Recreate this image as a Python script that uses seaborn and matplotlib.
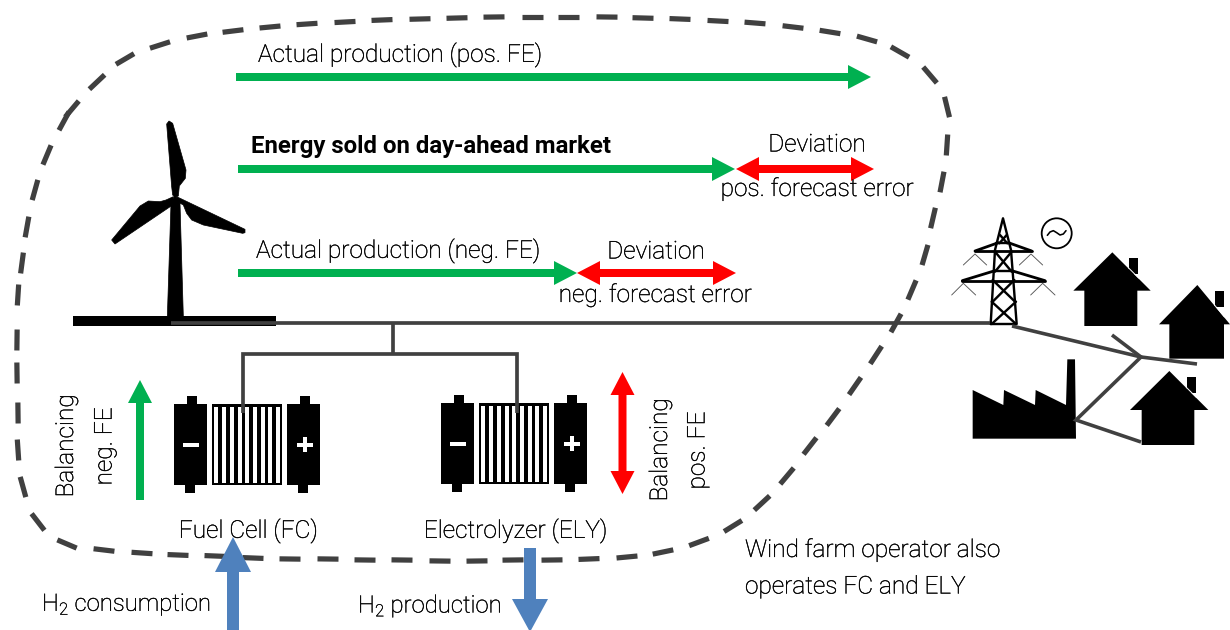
import matplotlib
matplotlib.use("Agg")
import matplotlib.pyplot as plt
import matplotlib.patheffects as pe
import numpy as np
import pandas as pd
import seaborn as sns
from matplotlib.patches import Circle, Polygon, Rectangle

sns.set_theme(style="white")
plt.rcParams["font.family"] = ["Roboto", "DejaVu Sans"]
plt.rcParams["mathtext.fontset"] = "custom"
plt.rcParams["mathtext.rm"] = "Roboto:light"
plt.rcParams["mathtext.default"] = "rm"

GREEN, RED, BLUE, DARK = "#00B050", "#FF0000", "#4F81BD", "#404040"

# ---- labels -----------------------------------------------------------
LABELS = [
    ("Actual production (pos. FE)", 258, 55, "left", 0, "light"),
    ("Energy sold on day-ahead market", 251, 147, "left", 0, "bold"),
    ("Deviation", 817, 145, "center", 0, "light"),
    ("pos. forecast error", 817, 189, "center", 0, "light"),
    ("Actual production (neg. FE)", 256, 251, "left", 0, "light"),
    ("Deviation", 656, 252, "center", 0, "light"),
    ("neg. forecast error", 655, 295, "center", 0, "light"),
    ("Balancing", 66.5, 446, "center", 90, "light"),
    ("neg. FE", 105, 446.5, "center", 90, "light"),
    ("Balancing", 660.5, 450, "center", 90, "light"),
    ("pos. FE", 698, 450.5, "center", 90, "light"),
    ("Fuel Cell (FC)", 248.5, 531, "center", 0, "light"),
    ("Electrolyzer (ELY)", 515.5, 531, "center", 0, "light"),
    ("H$_2$ consumption", 42, 605, "left", 0, "light"),
    ("H$_2$ production", 358, 606, "left", 0, "light"),
    ("Wind farm operator also", 745, 550, "left", 0, "light"),
    ("operates FC and ELY", 745, 587, "left", 0, "light"),
]

# ---- arrows: start, end, colour, shaft width, head width, head length, two-headed
ARROWS = [
    ((236, 77), (871, 77), GREEN, 8, 24, 23, False),
    ((238, 169), (735, 169), GREEN, 8, 24, 23, False),
    ((736, 169), (874, 169), RED, 8, 24, 23, True),
    ((238, 273), (577, 273), GREEN, 8, 24, 23, False),
    ((577, 273), (736, 273), RED, 8, 24, 23, True),
    ((140, 500), (140, 380), GREEN, 8, 24, 23, False),
    ((622.5, 494), (622.5, 372), RED, 8, 24, 23, True),
    ((233, 632), (233, 537), BLUE, 12, 36, 35, False),
    ((530, 548), (530, 632), BLUE, 12, 36, 33, False),
]

# ---- dashed boundary: dash centres, clockwise from the bottom left ------
DASH_CENTRES = [
    (67, 544), (38, 522), (23, 487), (18, 450), (18, 413), (17, 373), (17, 340),
    (18, 295), (22, 263), (27, 227), (35, 190), (47, 155), (64, 121), (72, 109), (97, 82),
    (125, 59), (160, 45), (197, 36), (233, 31), (270, 27), (307, 24), (345, 22), (382, 20),
    (420, 19), (457, 18), (494, 17), (532, 17), (568, 17), (607, 17), (643, 18), (680, 19),
    (718, 21), (755, 23), (793, 27), (830, 32), (867, 39), (900, 52), (930, 75), (947, 107),
    (947, 145), (942, 182), (933, 218), (925, 255), (912, 290), (896, 323), (876, 355),
    (855, 386), (833, 417), (810, 446), (787, 476), (762, 503), (733, 526), (699, 542),
    (663, 552), (627, 557), (589, 559), (552, 560), (513, 560), (477, 561), (440, 561),
    (402, 560), (365, 560), (328, 559), (290, 559), (253, 558), (215, 556), (178, 555),
    (142, 553), (104, 550),
]

# ---- connectors ---------------------------------------------------------
WIRES = [
    ([(171, 323), (990, 323)], 3.7),
    ([(392.7, 323), (392.7, 354)], 3.7),
    ([(242.7, 413), (242.7, 354), (516.7, 354), (516.7, 413)], 3.7),
    ([(1012, 326), (1141, 357), (1197, 364)], 3.6),
    ([(1112, 335), (1141, 357), (1076, 420), (1141, 442)], 3.6),
]

# ---- wind turbine outlines ----------------------------------------------
TURBINE_ZOOM = (60, 100)
TOWER = [(345, 285), (333, 310), (322, 650), (370, 650), (360, 310)]
BLADE_UP = [(345, 292), (338, 285), (335, 260), (320, 72), (327, 63), (338, 70), (378, 210),
            (376, 235), (358, 258), (355, 288)]
BLADE_LEFT = [(340, 290), (318, 300), (300, 305), (265, 303), (240, 318), (155, 420),
              (165, 432), (338, 315)]
BLADE_RIGHT = [(350, 290), (555, 388), (555, 398), (548, 400), (430, 375), (395, 360),
               (380, 340), (370, 315), (352, 305)]
TURBINE_BASE = (73, 316, 203, 10)

# ---- stacks -------------------------------------------------------------
STACK_ORIGINS = [(150, 340), (417, 339)]
STACK_WHITE_BARS = 9

# ---- pylon and consumers -------------------------------------------------
GRID_ZOOM = (950, 200)
PYLON_THICK = [
    [(122, 372), (135, 150), (159, 55), (183, 150), (200, 372), (122, 372)],
    [(135, 212), (185, 212)], [(138, 128), (180, 128)],
    [(135, 155), (185, 215)], [(185, 155), (135, 215)],
    [(128, 240), (195, 305)], [(193, 240), (128, 305)],
    [(125, 305), (198, 372)], [(198, 305), (125, 372)],
    [(150, 105), (172, 130)], [(170, 105), (148, 130)],
]
PYLON_ARMS = [
    [(75, 153), (245, 153)], [(75, 153), (145, 128)], [(245, 153), (175, 128)],
    [(37, 242), (285, 242)], [(37, 242), (135, 212)], [(285, 242), (185, 212)],
]
PYLON_THIN = [
    [(40, 195), (75, 162), (110, 195)], [(208, 195), (243, 162), (278, 195)],
    [(5, 285), (40, 250), (77, 285)], [(242, 285), (278, 250), (315, 285)],
]
AC_WAVE = [(292, 106), (300, 96), (310, 92), (320, 98), (330, 105), (340, 102), (348, 92)]
HOUSES = [
    dict(apex=(487, 157), eave=(370, 602, 272), body=(403, 562, 378), chim=(537, 565, 173, 222)),
    dict(apex=(742, 255), eave=(627, 840, 373), body=(658, 822, 476), chim=(795, 822, 272, 320)),
    dict(apex=(658, 513), eave=(540, 775, 630), body=(575, 733, 735), chim=(710, 738, 530, 580)),
]
FACTORY = [(68, 570), (160, 615), (162, 570), (255, 615), (257, 570), (348, 615), (352, 478),
           (375, 478), (378, 716), (68, 716)]


def zoomed(points, origin):
    return [(origin[0] + x / 3, origin[1] + y / 3) for x, y in points]


def line(ax, points, width, color=DARK, **kw):
    frame = pd.DataFrame(points, columns=["x", "y"])
    sns.lineplot(data=frame, x="x", y="y", ax=ax, sort=False, estimator=None, color=color,
                 linewidth=width * 0.72, legend=False, **kw)


def arrow(ax, start, end, color, shaft, head_w, head_l, both):
    p0, p1 = np.array(start, float), np.array(end, float)
    d = (p1 - p0) / np.linalg.norm(p1 - p0)
    n = np.array([-d[1], d[0]])
    a = p0 + d * head_l if both else p0
    b = p1 - d * head_l
    pts = [a + n * shaft / 2, b + n * shaft / 2, b + n * head_w / 2, p1,
           b - n * head_w / 2, b - n * shaft / 2, a - n * shaft / 2]
    if both:
        pts += [a - n * head_w / 2, p0, a + n * head_w / 2]
    ax.add_patch(Polygon(pts, closed=True, fc=color, ec="none", zorder=5))


def box(ax, x0, x1, y0, y1, color="black", z=3):
    ax.add_patch(Rectangle((x0, y0), x1 - x0, y1 - y0, fc=color, ec="none", zorder=z))


def stack(ax, origin):
    def px(x):
        return origin[0] + x / 3

    def py(y):
        return origin[1] + y / 3

    for x0, x1, n0, n1, b0, b1 in [(73, 172, 110, 141, 106, 136), (412, 511, 450, 481, 444, 475)]:
        box(ax, px(x0), px(x1), py(193), py(436))
        box(ax, px(n0), px(n1), py(168), py(193))
        box(ax, px(b0), px(b1), py(436), py(460))
    box(ax, px(100), px(147), py(309), py(322), "white", 4)
    box(ax, px(441), px(488), py(309), py(322), "white", 4)
    box(ax, px(458), px(471), py(292), py(336), "white", 4)
    box(ax, px(186), px(397), py(193), py(436))
    for i in range(STACK_WHITE_BARS):
        box(ax, px(193 + 23.2 * i), px(193 + 23.2 * i + 12), py(200), py(430), "white", 4)


fig = plt.figure(figsize=(12.3, 6.3), dpi=100, facecolor="white")
ax = fig.add_axes([0, 0, 1, 1])
ax.set_xlim(0, 1230)
ax.set_ylim(630, 0)
ax.autoscale(False)

# dashes
centres = np.array(DASH_CENTRES, float)
for i, c in enumerate(centres):
    tangent = centres[(i + 1) % len(centres)] - centres[i - 1]
    tangent /= np.linalg.norm(tangent)
    ends = [tuple(c - tangent * 10.5), tuple(c + tangent * 10.5)]
    line(ax, ends, 5.2, solid_capstyle="butt", zorder=2)

# turbine
for shape in (TOWER, BLADE_UP, BLADE_LEFT, BLADE_RIGHT):
    ax.add_patch(Polygon(zoomed(shape, TURBINE_ZOOM), closed=True, fc="black", ec="black",
                         lw=0.5, joinstyle="round", zorder=3))
bx, by, bw, bh = TURBINE_BASE
box(ax, bx, bx + bw, by, by + bh)

# stacks
for origin in STACK_ORIGINS:
    stack(ax, origin)

# wires
for pts, width in WIRES:
    line(ax, pts, width, solid_capstyle="butt", solid_joinstyle="miter", zorder=4)

# pylon
for pts in PYLON_THICK:
    line(ax, zoomed(pts, GRID_ZOOM), 2.4, color="black", zorder=3)
for pts in PYLON_ARMS:
    line(ax, zoomed(pts, GRID_ZOOM), 2.8, color="black", zorder=3)
for pts in PYLON_THIN:
    line(ax, zoomed(pts, GRID_ZOOM), 0.9, color="#555555", zorder=3)
ax.add_patch(Circle((1056.7, 233.3), 15, fc="none", ec="black", lw=1.3, zorder=3))
line(ax, zoomed(AC_WAVE, GRID_ZOOM), 1.6, color="black", zorder=3)

# houses and factory
for h in HOUSES:
    ax_, ay_ = h["apex"]
    el, er, ey = h["eave"]
    bl, br, bb = h["body"]
    cl, cr, ct, cb = h["chim"]
    ax.add_patch(Polygon(zoomed([(cl, ct), (cr, ct), (cr, cb), (cl, cb)], GRID_ZOOM),
                         closed=True, fc="black", ec="none", zorder=3))
    ax.add_patch(Polygon(zoomed([(ax_, ay_), (er, ey), (br, ey), (br, bb), (bl, bb), (bl, ey), (el, ey)],
                                GRID_ZOOM), closed=True, fc="black", ec="none", zorder=3))
    # thin white seam between chimney and roof slope
    slope = (ey - ay_) / (er - ax_)
    seam = [(cl - 2, ay_ + slope * (cl - 2 - ax_) - 2), (cr + 2, ay_ + slope * (cr + 2 - ax_) - 2)]
    line(ax, zoomed(seam, GRID_ZOOM), 1.0, color="white", solid_capstyle="butt", zorder=3.5)
ax.add_patch(Polygon(zoomed(FACTORY, GRID_ZOOM), closed=True, fc="black", ec="none", zorder=3))

# arrows
for spec in ARROWS:
    arrow(ax, *spec)

# text
for text, x, y, ha, rot, weight in LABELS:
    size = 17.3 if weight == "bold" else (17.2 if text.startswith("H$") else 17.6)
    t = ax.text(x, y, text, ha=ha, va="center", rotation=rot, fontsize=size, fontweight=weight,
                color="black", zorder=6)
    if weight == "light":
        t.set_path_effects([pe.withStroke(linewidth=0.25, foreground="black")])

ax.set_xlabel("")
ax.set_ylabel("")
ax.set_axis_off()
fig.savefig("out.png", dpi=100, facecolor="white")
